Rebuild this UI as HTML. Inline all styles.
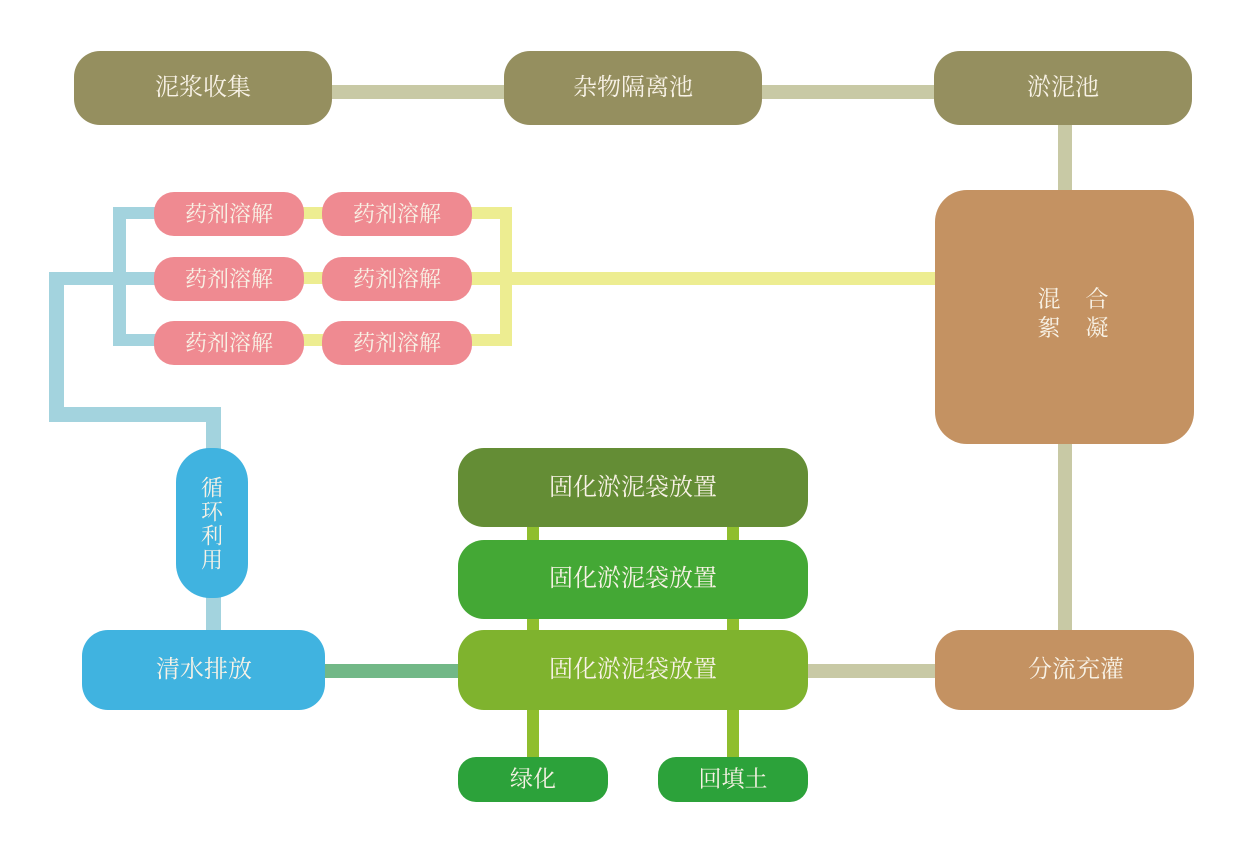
<!DOCTYPE html>
<html><head><meta charset="utf-8"><style>
html,body{margin:0;padding:0;background:#fff;width:1258px;height:847px;overflow:hidden}
svg text{font-family:"Liberation Serif","Noto Serif CJK SC",serif;fill:#f8f2e6;text-anchor:middle;dominant-baseline:central}
</style></head><body>
<svg width="1258" height="847" viewBox="0 0 1258 847">
<g fill="#c8c9a5">
<rect x="332" y="85" width="172" height="14"/>
<rect x="762" y="85" width="172" height="14"/>
<rect x="1058" y="125" width="14" height="66"/>
<rect x="1058" y="443" width="14" height="189"/>
<rect x="807" y="664" width="130" height="14"/>
</g>
<rect x="324" y="664" width="136" height="14" fill="#72b887"/>
<g fill="#8fbe2e">
<rect x="527" y="525" width="12" height="234"/>
<rect x="727" y="525" width="12" height="234"/>
</g>
<g fill="#a3d3de">
<rect x="113" y="207" width="13" height="139"/>
<rect x="113" y="207" width="44" height="12"/>
<rect x="49" y="272" width="108" height="13"/>
<rect x="113" y="334" width="44" height="12"/>
<rect x="49" y="272" width="15" height="150"/>
<rect x="49" y="407" width="172" height="15"/>
<rect x="206" y="407" width="15" height="43"/>
<rect x="206" y="596" width="15" height="36"/>
</g>
<g fill="#eded91">
<rect x="302" y="207" width="22" height="12"/>
<rect x="302" y="272" width="22" height="12"/>
<rect x="302" y="334" width="22" height="12"/>
<rect x="470" y="207" width="42" height="12"/>
<rect x="470" y="334" width="42" height="12"/>
<rect x="500" y="207" width="12" height="139"/>
<rect x="470" y="272" width="467" height="13"/>
</g>
<g fill="#958f5f">
<rect x="74" y="51" width="258" height="74" rx="26"/>
<rect x="504" y="51" width="258" height="74" rx="26"/>
<rect x="934" y="51" width="258" height="74" rx="26"/>
</g>
<text x="203" y="88" font-size="24">泥浆收集</text>
<text x="633" y="88" font-size="24">杂物隔离池</text>
<text x="1063" y="88" font-size="24">淤泥池</text>
<rect x="935" y="190" width="259" height="254" rx="32" fill="#c49262"/>
<text x="1049" y="299" font-size="23">混</text>
<text x="1097" y="299" font-size="23">合</text>
<text x="1049" y="328" font-size="23">絮</text>
<text x="1097" y="328" font-size="23">凝</text>
<rect x="935" y="630" width="259" height="80" rx="26" fill="#c49262"/>
<text x="1076" y="670" font-size="24">分流充灌</text>
<g fill="#ef8a91">
<rect x="154" y="192" width="150" height="44" rx="20"/>
<rect x="322" y="192" width="150" height="44" rx="20"/>
<rect x="154" y="257" width="150" height="44" rx="20"/>
<rect x="322" y="257" width="150" height="44" rx="20"/>
<rect x="154" y="321" width="150" height="44" rx="20"/>
<rect x="322" y="321" width="150" height="44" rx="20"/>
</g>
<g font-size="22">
<text x="229" y="214">药剂溶解</text><text x="397" y="214">药剂溶解</text>
<text x="229" y="279">药剂溶解</text><text x="397" y="279">药剂溶解</text>
<text x="229" y="343">药剂溶解</text><text x="397" y="343">药剂溶解</text>
</g>
<rect x="176" y="448" width="72" height="150" rx="34" fill="#40b3e0"/>
<g font-size="22"><text x="212" y="488">循</text><text x="212" y="512">环</text><text x="212" y="536">利</text><text x="212" y="560">用</text></g>
<rect x="82" y="630" width="243" height="80" rx="26" fill="#40b3e0"/>
<text x="204" y="670" font-size="24">清水排放</text>
<rect x="458" y="448" width="350" height="79" rx="26" fill="#648d35"/>
<rect x="458" y="540" width="350" height="79" rx="26" fill="#44a835"/>
<rect x="458" y="630" width="350" height="80" rx="26" fill="#7fb32e"/>
<text x="633" y="488" font-size="24">固化淤泥袋放置</text>
<text x="633" y="579" font-size="24">固化淤泥袋放置</text>
<text x="633" y="670" font-size="24">固化淤泥袋放置</text>
<rect x="458" y="757" width="150" height="45" rx="18" fill="#2ca23a"/>
<rect x="658" y="757" width="150" height="45" rx="18" fill="#2ca23a"/>
<text x="533" y="779" font-size="23">绿化</text>
<text x="733" y="779" font-size="23">回填土</text>
</svg>
</body></html>
